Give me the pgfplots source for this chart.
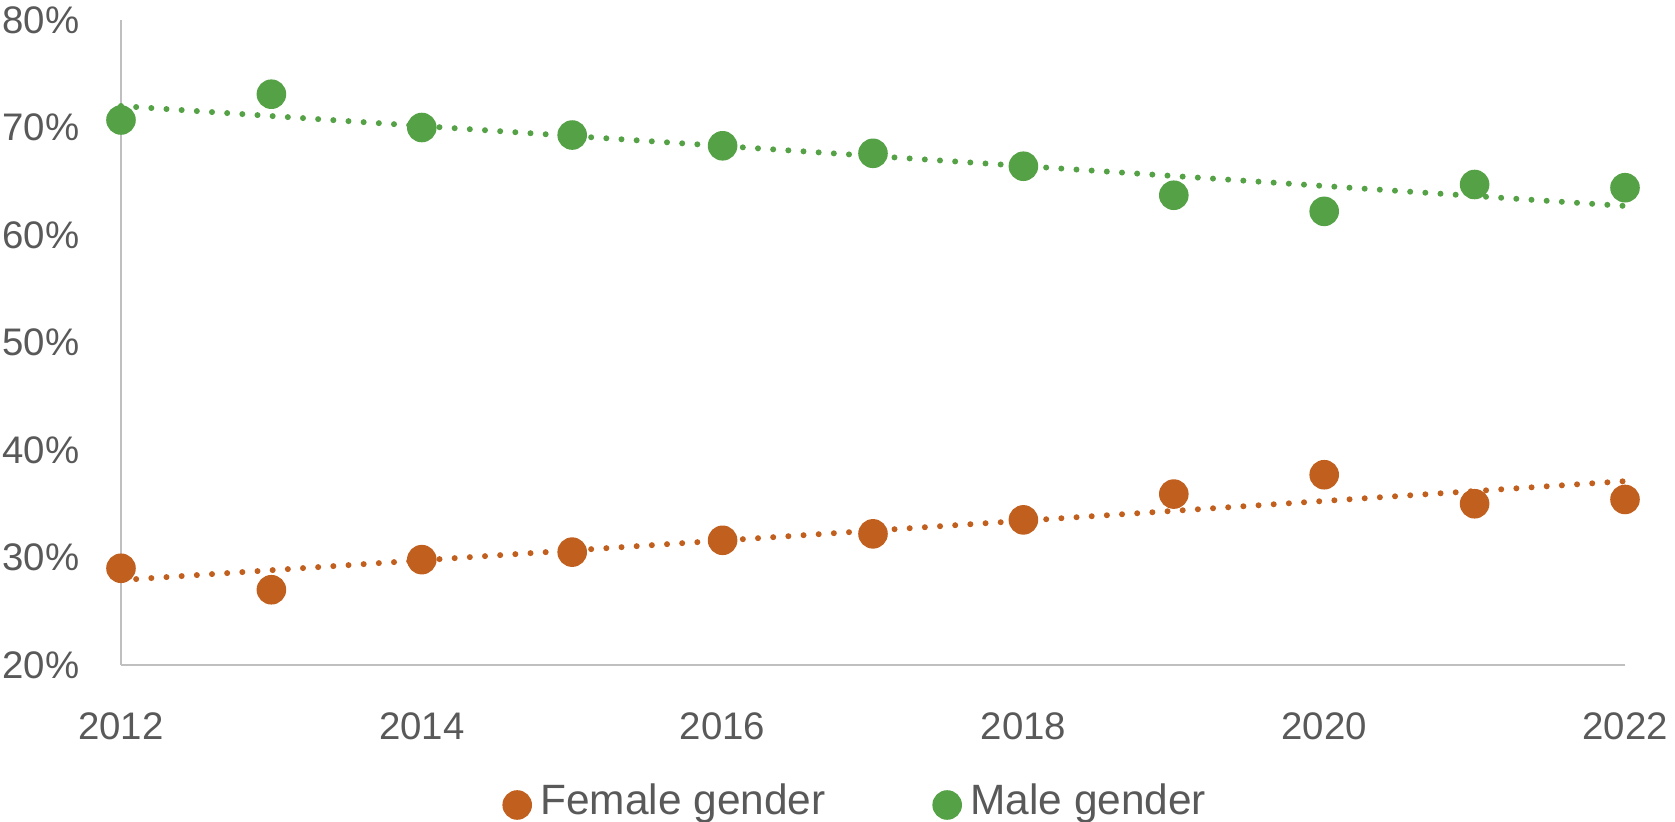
\documentclass[border=0pt]{standalone}
\usepackage{pgfplots}
\pgfplotsset{compat=1.18}
\usepackage{fontspec}
\setmainfont{Liberation Sans}
\definecolor{mgreen}{HTML}{55A146}
\definecolor{forange}{HTML}{C05F1E}
\definecolor{tickgray}{HTML}{595959}
\definecolor{axgray}{HTML}{BFBFBF}
\begin{document}
\begin{tikzpicture}
\begin{axis}[
  scale only axis,
  width=376bp, height=161.25bp,
  xmin=2012, xmax=2022, ymin=20, ymax=80,
  clip=false,
  axis x line=bottom, axis y line=left,
  axis line style={-, axgray, line width=0.55bp},
  major tick length=0pt,
  xtick={2012,2014,...,2022},
  ytick={20,30,...,80},
  /pgf/number format/assume math mode=true,
  x tick label style={/pgf/number format/1000 sep={}, anchor=north, inner sep=0pt, yshift=-11.6bp},
  y tick label style={anchor=east, inner sep=0pt, xshift=-10.25bp},
  yticklabel={\pgfmathprintnumber{\tick}\%},
  tick label style={font=\fontsize{9.6bp}{11bp}\selectfont, text=tickgray},
  legend columns=2,
  legend image code/.code={\fill (3.5bp,-0.75bp) circle (3.5bp);},
  legend style={draw=none, fill=none, font=\fontsize{10.6bp}{12bp}\selectfont, text=tickgray,
    inner sep=0pt, outer sep=0pt, nodes={inner sep=0pt},
    /tikz/every odd column/.append style={column sep=2.1bp},
    /tikz/every even column/.append style={column sep=26.7bp},
    at={(0.2536,-0.2124)}, anchor=west},
  legend cell align=left,
]
\addplot[forget plot, forange, line width=1.5bp, line cap=round, dash pattern=on 0pt off 3.8bp]
  coordinates {(2012,27.9) (2022,37.1)};
\addplot[forget plot, mgreen, line width=1.5bp, line cap=round, dash pattern=on 0pt off 3.8bp]
  coordinates {(2012,72.0) (2022,62.7)};
\addplot[only marks, mark=*, forange, mark size=3.5bp, mark options={draw=forange, fill=forange}]
  coordinates {(2012,29.0) (2013,27.0) (2014,29.8) (2015,30.5) (2016,31.6) (2017,32.2)
               (2018,33.5) (2019,35.9) (2020,37.7) (2021,35.0) (2022,35.4)};
\addlegendentry{Female gender}
\addplot[only marks, mark=*, mgreen, mark size=3.5bp, mark options={draw=mgreen, fill=mgreen}]
  coordinates {(2012,70.7) (2013,73.1) (2014,70.0) (2015,69.3) (2016,68.3) (2017,67.6)
               (2018,66.4) (2019,63.7) (2020,62.2) (2021,64.7) (2022,64.4)};
\addlegendentry{Male gender}
\end{axis}
\pgfresetboundingbox
\path[use as bounding box] (-30.25bp,-39.25bp) rectangle (388.5bp,166.25bp);
\end{tikzpicture}
\end{document}
